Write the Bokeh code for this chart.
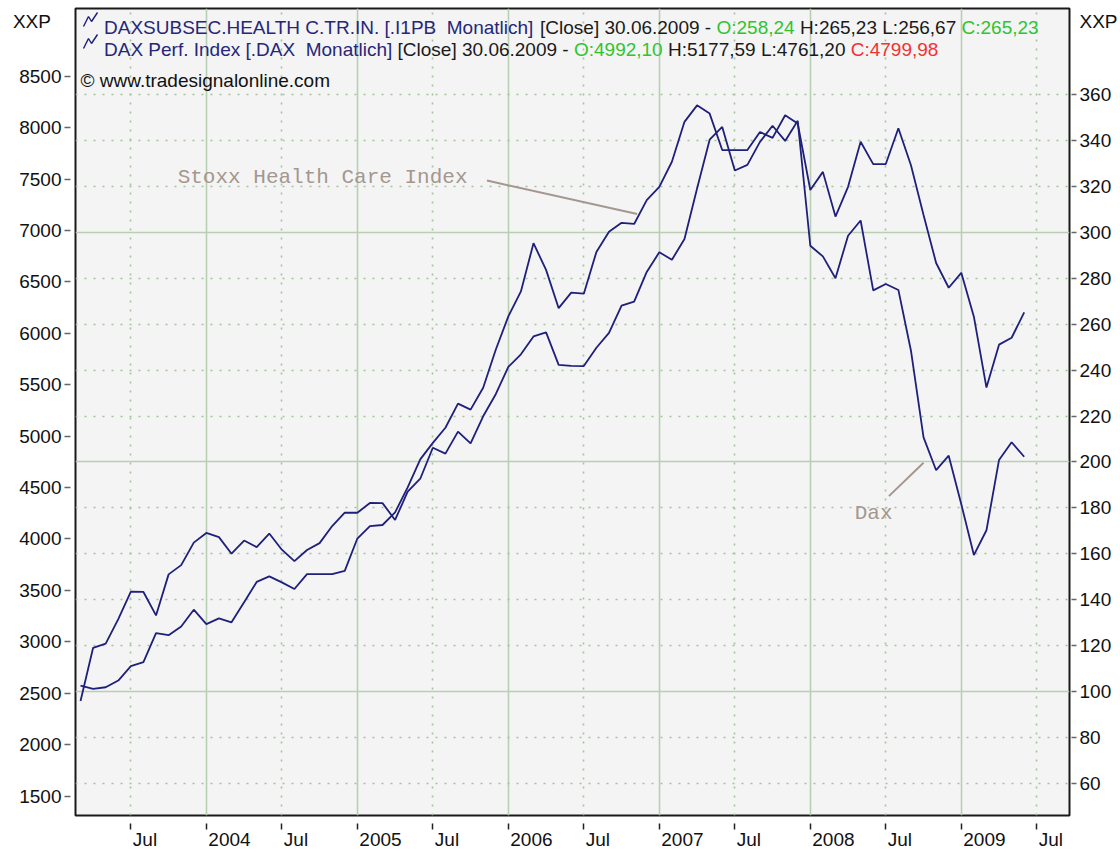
from bokeh.plotting import figure
from bokeh.models import (Range1d, LinearAxis, FixedTicker, Grid, Label,
                          ColumnDataSource, PolyAnnotation)
from bokeh.embed import file_html
from bokeh.resources import INLINE

# ---------------- data ----------------
months = []
_y, _m = 2003, 3
for _ in range(76):
    months.append(f"{_y}-{_m:02d}")
    _m += 1
    if _m > 12:
        _m, _y = 1, _y + 1

dax = [2424, 2942, 2983, 3221, 3488, 3485, 3257, 3656, 3746, 3965,
       4059, 4018, 3857, 3985, 3921, 4053, 3896, 3785, 3893, 3960, 4126, 4256,
       4255, 4350, 4349, 4185, 4461, 4586, 4887, 4830, 5044, 4929, 5193, 5408,
       5674, 5796, 5970, 6010, 5693, 5683, 5682, 5860, 6004, 6269, 6309, 6597,
       6789, 6715, 6917, 7409, 7883, 8007, 7584, 7638, 7862, 8019, 7871, 8067,
       6852, 6748, 6535, 6949, 7097, 6418, 6480, 6422, 5831, 4988, 4669, 4810,
       4338, 3844, 4085, 4769, 4941, 4800]

health = [102.5, 101.1, 101.8, 104.7, 111.0, 112.7, 125.4, 124.5, 128.3, 135.6,
          129.3, 131.8, 130.1, 138.8, 147.7, 150.1, 147.5, 144.6, 151.1, 151.1, 151.1, 152.5,
          166.6, 172.0, 172.5, 178.0, 188.9, 201.1, 208.3, 214.9, 225.4, 222.8, 232.3, 248.9,
          263.4, 274.3, 295.3, 283.7, 267.0, 273.8, 273.3, 291.5, 300.3, 304.2, 303.7, 314.1,
          319.9, 330.8, 348.2, 355.4, 351.8, 335.9, 335.9, 335.9, 343.8, 341.2, 351.1, 347.5,
          318.5, 326.4, 306.9, 319.9, 339.5, 329.8, 329.8, 345.4, 329.3, 307.6, 286.7, 275.9,
          282.4, 263.3, 232.4, 251.1, 254.1, 265.2]

xtick_dates = ["2003-07", "2004-01", "2004-07", "2005-01", "2005-07", "2006-01", "2006-07",
               "2007-01", "2007-07", "2008-01", "2008-07", "2009-01", "2009-07"]
xtick_labels = ["Jul", "2004", "Jul", "2005", "Jul", "2006", "Jul",
                "2007", "Jul", "2008", "Jul", "2009", "Jul"]
left_ticks = [1500, 2000, 2500, 3000, 3500, 4000, 4500, 5000, 5500, 6000, 6500, 7000, 7500, 8000, 8500]
right_ticks = [60, 80, 100, 120, 140, 160, 180, 200, 220, 240, 260, 280, 300, 320, 340, 360]
right_major = [100, 200, 300]

header1 = ["DAXSUBSEC.HEALTH C.TR.IN. [.I1PB\u00a0 Monatlich] ", "[Close] 30.06.2009 - ",
           "O:258,24 ", "H:265,23 L:256,67 ", "C:265,23"]
header2 = ["DAX Perf. Index [.DAX\u00a0 Monatlich] ", "[Close] 30.06.2009 - ",
           "O:4992,10 ", "H:5177,59 L:4761,20 ", "C:4799,98"]
copyright_text = "\u00a9 www.tradesignalonline.com"
unit_label = "XXP"

# ---------------- styling ----------------
FONT = "Liberation Sans"
MONO = "Liberation Mono"
NAVY = "#1f1f7c"
NAVY_T = "#26267a"
DARK = "#1a1a1a"
GREEN = "#2fc42f"
RED = "#f53030"
ANN = "#a3978f"
GRID_SOLID = "#b9cfb4"
GRID_DOT = "#a3c39c"
PX_PER_MONTH = 995 / 79.0

AW = {' ': 278, '\u00a0': 278, '.': 278, ',': 278, ':': 278, '-': 333, '[': 278, ']': 278,
      '(': 333, ')': 333, '/': 278, '\u00a9': 737,
      'A': 667, 'B': 667, 'C': 722, 'D': 722, 'E': 667, 'F': 611, 'G': 778, 'H': 722, 'I': 278,
      'J': 500, 'K': 667, 'L': 556, 'M': 833, 'N': 722, 'O': 778, 'P': 667, 'Q': 778, 'R': 722,
      'S': 667, 'T': 611, 'U': 722, 'V': 667, 'W': 944, 'X': 667, 'Y': 667, 'Z': 611,
      'a': 556, 'b': 556, 'c': 500, 'd': 556, 'e': 556, 'f': 278, 'g': 556, 'h': 556, 'i': 222,
      'j': 222, 'k': 500, 'l': 222, 'm': 833, 'n': 556, 'o': 556, 'p': 556, 'q': 556, 'r': 333,
      's': 500, 't': 278, 'u': 556, 'v': 500, 'w': 722, 'x': 500, 'y': 500, 'z': 500}


def tw(s, size):
    return sum(AW.get(c, 556) for c in s) * size / 1000.0


def midx(s):
    y, m = map(int, s.split("-"))
    return (y - 2003) * 12 + (m - 1)


mi = [midx(s) for s in months]

W, H = 1120, 852
p = figure(width=W, height=H, output_backend="svg", toolbar_location=None,
           x_range=Range1d(1.6, 80.6), y_range=Range1d(1311, 9159),
           min_border_left=75, min_border_right=50, min_border_top=8, min_border_bottom=35,
           background_fill_color="#f4f4f4", border_fill_color="white",
           outline_line_color="#1a1a1a", outline_line_width=2)
p.extra_y_ranges = {"right": Range1d(45.9, 397.6)}

# grids
p.xgrid.visible = False
p.ygrid.visible = False
jan = [midx(d) for d, l in zip(xtick_dates, xtick_labels) if l != "Jul"]
jul = [midx(d) for d, l in zip(xtick_dates, xtick_labels) if l == "Jul"]
p.add_layout(Grid(dimension=0, ticker=FixedTicker(ticks=jul), grid_line_color=GRID_DOT,
                  grid_line_width=1.6, grid_line_dash="2 7"))
p.add_layout(Grid(dimension=0, ticker=FixedTicker(ticks=jan), grid_line_color=GRID_SOLID,
                  grid_line_width=1.6))
p.add_layout(Grid(dimension=1, y_range_name="right",
                  ticker=FixedTicker(ticks=[t for t in right_ticks if t not in right_major]),
                  grid_line_color=GRID_DOT, grid_line_width=1.6, grid_line_dash="2 7"))
p.add_layout(Grid(dimension=1, y_range_name="right", ticker=FixedTicker(ticks=right_major),
                  grid_line_color=GRID_SOLID, grid_line_width=1.6))


def style_axis(ax, tin, tout):
    # labels come from (invisible) major ticks, visible marks from minor ticks
    ax.axis_line_color = None
    ax.major_tick_line_color = None
    ax.major_tick_in = 0
    ax.major_tick_out = tout
    ax.minor_tick_in = tin
    ax.minor_tick_out = tout
    ax.minor_tick_line_color = "#666666"
    ax.minor_tick_line_width = 1.5
    ax.major_label_text_font = FONT
    ax.major_label_text_font_size = "19px"
    ax.major_label_text_color = "#111111"


# left axis (+ unit label at the top)
LEFT_UNIT_AT = 9028
ya = p.yaxis[0]
ya.ticker = FixedTicker(ticks=left_ticks + [LEFT_UNIT_AT], minor_ticks=left_ticks)
style_axis(ya, -5, 11)
ya.major_label_standoff = 3
ya.major_label_overrides = {LEFT_UNIT_AT: unit_label + "\u00a0\u00a0"}

# right axis (+ unit label at the top)
RIGHT_UNIT_AT = 392
ra = LinearAxis(y_range_name="right",
                ticker=FixedTicker(ticks=right_ticks + [RIGHT_UNIT_AT], minor_ticks=right_ticks))
style_axis(ra, -2, 7)
ra.major_label_standoff = 3
ra.major_label_overrides = {RIGHT_UNIT_AT: unit_label}
p.add_layout(ra, "right")

# bottom axis: tick marks at the months, labels left-aligned just right of them
xa = p.xaxis[0]
xtick_m = [midx(d) for d in xtick_dates]
lab_pos = [round(m + (2 + tw(l, 19) / 2) / PX_PER_MONTH, 4) for m, l in zip(xtick_m, xtick_labels)]
xa.ticker = FixedTicker(ticks=lab_pos, minor_ticks=xtick_m)
style_axis(xa, -8, 14)
xa.major_tick_out = 0
xa.minor_tick_line_color = "#222222"
xa.major_label_standoff = -1
xa.major_label_overrides = {pos: l for pos, l in zip(lab_pos, xtick_labels)}

# series
src = ColumnDataSource(dict(m=mi, dax=dax, health=health))
p.line("m", "health", source=src, y_range_name="right", line_color=NAVY, line_width=1.8)
p.line("m", "dax", source=src, line_color=NAVY, line_width=1.8)

# annotations (month index, right-axis value)
p.segment(x0=[34.3, 66.25], y0=[322.6, 185.1], x1=[46.24, 69.0], y1=[308.0, 199.6],
          y_range_name="right", line_color=ANN, line_width=2)
p.add_layout(Label(x=9.72, y=324.0, y_range_name="right", text="Stoxx Health Care Index",
                   text_font=MONO, text_font_size="21px", text_color=ANN,
                   text_baseline="alphabetic"))
p.add_layout(Label(x=63.53, y=177.5, y_range_name="right", text="Dax",
                   text_font=MONO, text_font_size="21px", text_color=ANN,
                   text_baseline="alphabetic"))

# header (screen units relative to the frame: x from its left edge, y from its bottom edge)
FRAME_BOTTOM = 817
colors1 = [NAVY_T, DARK, GREEN, DARK, GREEN]
colors2 = [NAVY_T, DARK, GREEN, DARK, RED]
for segs, cols, base in ((header1, colors1, 29), (header2, colors2, 51)):
    x = 28.5
    y = FRAME_BOTTOM - base
    for s, c in zip(segs, cols):
        p.add_layout(Label(x=x, y=y, x_units="screen", y_units="screen", text=s,
                           text_font=FONT, text_font_size="19px", text_color=c,
                           text_baseline="alphabetic"))
        x += tw(s, 19)
    ix = [8, 13, 16, 22, 16, 13]
    iy = [y + 1, y + 11, y + 6, y + 15, y + 6, y + 11]
    p.add_layout(PolyAnnotation(xs=ix, ys=iy, xs_units="screen", ys_units="screen",
                                fill_alpha=0, line_color=NAVY, line_alpha=1, line_width=1.4))

p.add_layout(Label(x=5, y=FRAME_BOTTOM - 82, x_units="screen", y_units="screen", text=copyright_text,
                   text_font=FONT, text_font_size="19px", text_color="#111111",
                   text_baseline="alphabetic"))

open("out.html", "w").write(file_html(p, INLINE))
